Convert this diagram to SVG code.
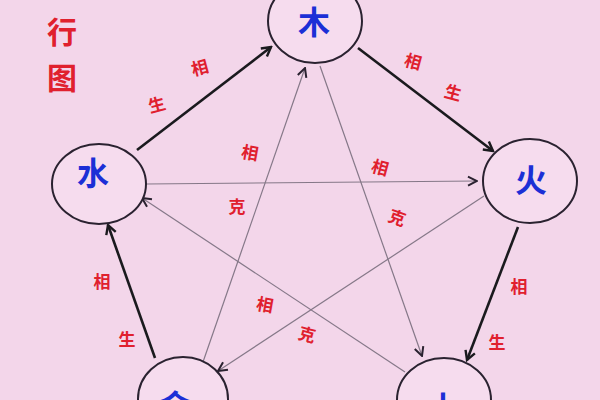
<svg xmlns="http://www.w3.org/2000/svg" width="600" height="400" viewBox="0 0 600 400">
<style>
.node{fill:#f6dcee;stroke:#2a2230;stroke-width:2}
.nt{font-family:"Noto Sans CJK SC","Noto Sans",sans-serif;font-size:32px;font-weight:bold;fill:#1b2fd6;text-anchor:middle}
.lb{font-family:"Noto Sans CJK SC","Noto Sans",sans-serif;font-size:17px;font-weight:bold;fill:#e0202e;text-anchor:middle}
.tt{font-family:"Noto Sans CJK SC","Noto Sans",sans-serif;font-size:30px;font-weight:bold;fill:#e0202e;text-anchor:middle}
.sheng{stroke:#1a1a1e;stroke-width:2.6;fill:none}
.ke{stroke:#857888;stroke-width:1.2;fill:none}
</style>
<defs>
<marker id="ahS" viewBox="0 0 14 14" refX="12" refY="7" markerWidth="14" markerHeight="14" orient="auto" markerUnits="userSpaceOnUse">
<path d="M3,2 L12,7 L3,12" fill="none" stroke="#1a1a1e" stroke-width="2.4"/>
</marker>
<marker id="ahK" viewBox="0 0 12 12" refX="11" refY="6" markerWidth="12" markerHeight="12" orient="auto" markerUnits="userSpaceOnUse">
<path d="M2,1.5 L11,6 L2,10.5" fill="none" stroke="#2a2230" stroke-width="2"/>
</marker>
</defs>
<rect width="600" height="400" fill="#f3d6ea"/>
<g id="title">
<text class="tt" x="62" y="43">行</text>
<text class="tt" x="62" y="89">图</text>
</g>
<g id="connectors">
<line class="sheng" x1="137" y1="150" x2="271" y2="47" marker-end="url(#ahS)"/>
<line class="sheng" x1="358" y1="48" x2="493" y2="151" marker-end="url(#ahS)"/>
<line class="sheng" x1="518" y1="227" x2="467" y2="360" marker-end="url(#ahS)"/>
<line class="sheng" x1="155" y1="358" x2="108" y2="225" marker-end="url(#ahS)"/>
<line class="ke" x1="320" y1="66" x2="422" y2="356" marker-end="url(#ahK)"/>
<line class="ke" x1="405" y1="372" x2="142" y2="198" marker-end="url(#ahK)"/>
<line class="ke" x1="146" y1="184" x2="477" y2="181" marker-end="url(#ahK)"/>
<line class="ke" x1="484" y1="196" x2="218" y2="371" marker-end="url(#ahK)"/>
<line class="ke" x1="203" y1="362" x2="305" y2="68" marker-end="url(#ahK)"/>
</g>
<g id="labels">
<text class="lb" x="200" y="74" transform="rotate(-15 200 68)">相</text>
<text class="lb" x="157" y="111" transform="rotate(-15 157 105)">生</text>
<text class="lb" x="413" y="68" transform="rotate(15 413 62)">相</text>
<text class="lb" x="453" y="99" transform="rotate(15 453 93)">生</text>
<text class="lb" x="519" y="293">相</text>
<text class="lb" x="497" y="349">生</text>
<text class="lb" x="102" y="288">相</text>
<text class="lb" x="127" y="346">生</text>
<text class="lb" x="250" y="159" transform="rotate(10 250 153)">相</text>
<text class="lb" x="237" y="213">克</text>
<text class="lb" x="380" y="174" transform="rotate(15 380 168)">相</text>
<text class="lb" x="397" y="224" transform="rotate(20 397 218)">克</text>
<text class="lb" x="265" y="311" transform="rotate(10 265 305)">相</text>
<text class="lb" x="307" y="341" transform="rotate(15 307 335)">克</text>
</g>
<g id="node-mu">
<ellipse class="node" cx="315" cy="21" rx="47" ry="42"/>
<text class="nt" x="314" y="34">木</text>
</g>
<g id="node-huo">
<ellipse class="node" cx="530" cy="181" rx="47" ry="42"/>
<text class="nt" x="531" y="192">火</text>
</g>
<g id="node-shui">
<ellipse class="node" cx="99" cy="184" rx="47" ry="40"/>
<text class="nt" x="93" y="185">水</text>
</g>
<g id="node-jin">
<ellipse class="node" cx="183" cy="399" rx="45" ry="42"/>
<text class="nt" x="175" y="418">金</text>
</g>
<g id="node-tu">
<ellipse class="node" cx="444" cy="400" rx="47" ry="42"/>
<text class="nt" x="443" y="420">土</text>
</g>
</svg>
